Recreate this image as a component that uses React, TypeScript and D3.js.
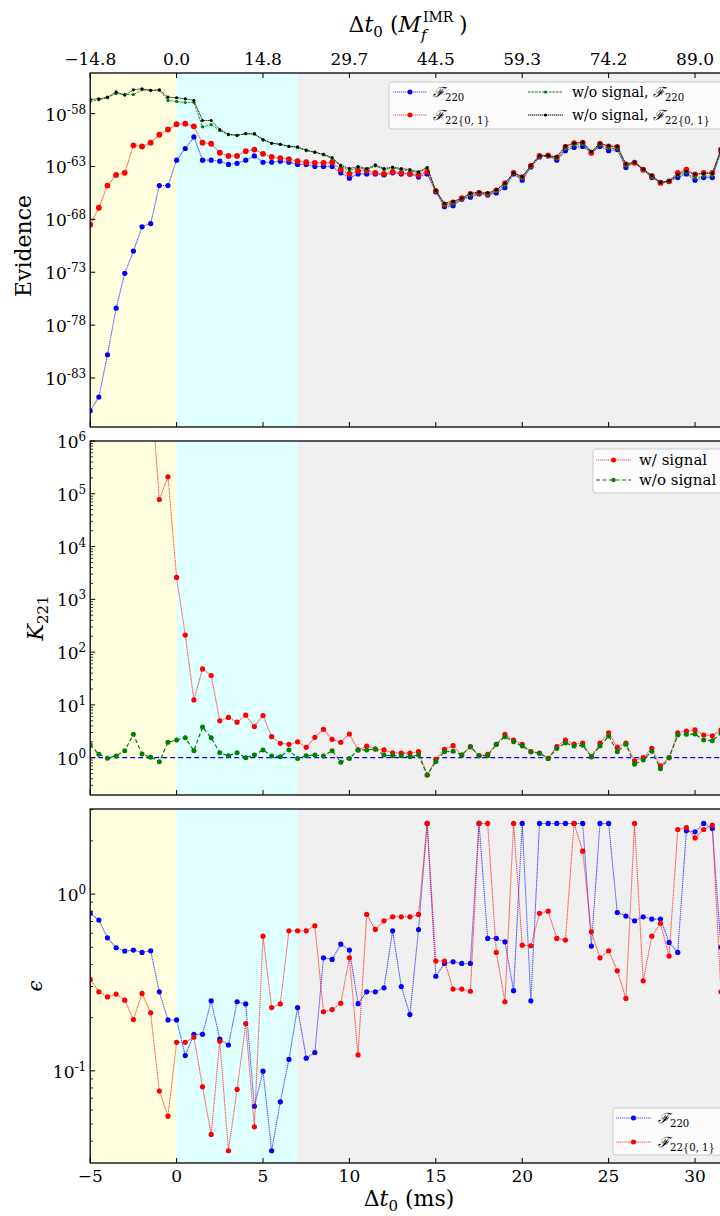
import React from 'react';
import * as d3 from 'd3';

// time offsets (ms)
const T = [
  -5, -4.5, -4, -3.5, -3, -2.5, -2, -1.5, -1, -0.5,
  0, 0.5, 1, 1.5, 2, 2.5, 3, 3.5, 4, 4.5,
  5, 5.5, 6, 6.5, 7, 7.5, 8, 8.5, 9, 9.5,
  10, 10.5, 11, 11.5, 12, 12.5, 13, 13.5, 14, 14.5,
  15, 15.5, 16, 16.5, 17, 17.5, 18, 18.5, 19, 19.5,
  20, 20.5, 21, 21.5, 22, 22.5, 23, 23.5, 24, 24.5,
  25, 25.5, 26, 26.5, 27, 27.5, 28, 28.5, 29, 29.5,
  30, 30.5, 31, 31.5,
];

// log10(evidence)
const logEvF220 = [
  -86.1, -84.8, -80.8, -76.4, -73.1, -71.0, -68.7, -68.4, -64.8, -64.8,
  -62.4, -61.3, -60.2, -62.4, -62.4, -62.5, -62.8, -62.7, -62.4, -62.0,
  -62.6, -62.6, -62.5, -62.6, -62.8, -62.8, -63.0, -63.0, -63.0, -63.6,
  -64.1, -63.7, -63.7, -63.7, -63.8, -63.6, -63.7, -63.7, -64.0, -63.7,
  -65.4, -66.8, -66.7, -66.1, -65.9, -65.6, -65.7, -65.5, -65.0, -63.7,
  -64.3, -63.05, -62.1, -62.0, -62.4, -61.5, -61.2, -61.1, -61.7, -61.1,
  -61.5, -61.4, -63.1, -62.6, -63.3, -64.05, -64.5, -64.4, -64.05, -63.7,
  -64.3, -64.05, -64.05, -61.6,
];
const logEvF2201 = [
  -68.5, -66.9, -64.8, -63.8, -63.6, -61.0, -61.1, -60.75, -60.0, -59.5,
  -59.0, -58.95, -59.2, -60.75, -60.85, -61.7, -62.0, -62.0, -61.55, -61.4,
  -61.8, -62.1, -62.2, -62.3, -62.5, -62.6, -62.65, -62.65, -62.6, -63.3,
  -63.7, -63.4, -63.4, -63.6, -63.7, -63.5, -63.6, -63.7, -63.8, -63.5,
  -65.3, -66.6, -66.4, -66.0, -65.6, -65.5, -65.6, -65.25, -64.6, -63.6,
  -64.0, -62.95, -62.0, -61.95, -62.15, -61.15, -60.8, -60.75, -61.7, -60.85,
  -61.1, -61.15, -62.8, -62.65, -63.3, -63.9, -64.55, -64.4, -63.6, -63.3,
  -63.75, -63.6, -63.6, -61.4,
];
const logEvNoSigF220 = [
  -56.85, -56.7, -56.5, -56.1, -56.2, -56.2, -55.75, -55.8, -55.8, -56.75,
  -56.85, -56.95, -56.95, -59.25, -59.05, -59.6, -60.0, -60.05, -59.9, -59.95,
  -60.5, -60.8, -60.9, -61.1, -61.2, -61.5, -61.65, -61.9, -62.25, -63.0,
  -63.4, -63.1, -63.3, -62.95, -63.3, -63.15, -63.3, -63.4, -63.6, -63.1,
  -65.35, -66.65, -66.55, -66.05, -65.75, -65.5, -65.65, -65.35, -64.8, -63.65,
  -64.15, -63.0, -62.05, -62.0, -62.3, -61.35, -61.0, -60.9, -61.65, -60.95,
  -61.3, -61.3, -62.95, -62.6, -63.3, -64.0, -64.5, -64.4, -63.9, -63.6,
  -64.1, -63.9, -63.9, -61.5,
];
const logEvNoSigF2201 = [
  -56.65, -56.6, -56.45, -55.95, -56.25, -55.75, -55.65, -55.8, -55.75, -56.45,
  -56.5, -56.6, -56.75, -58.65, -58.65, -59.5, -59.95, -60.05, -59.9, -59.9,
  -60.45, -60.8, -60.9, -61.1, -61.15, -61.45, -61.65, -61.85, -62.15, -62.9,
  -63.2, -63.0, -63.2, -62.85, -63.2, -63.05, -63.2, -63.3, -63.5, -63.1,
  -65.25, -66.45, -66.3, -66.0, -65.55, -65.4, -65.5, -65.2, -64.55, -63.6,
  -63.95, -62.9, -61.95, -61.95, -62.1, -61.05, -60.8, -60.7, -61.6, -60.8,
  -61.05, -61.1, -62.75, -62.6, -63.25, -63.85, -64.5, -64.35, -63.75, -63.45,
  -63.75, -63.65, -63.65, -61.4,
];

// Bayes factor K221
const kWithSignal = [
  1e17, 8e17, 1e16, 4e12, 3e9, 1e10, 4e7, 1.3e7, 7.8e4, 2.1e5,
  2.6e3, 210, 12.4, 48, 36, 5.0, 5.8, 4.7, 6.4, 3.9,
  6.3, 2.5, 1.87, 1.79, 2.0, 1.57, 2.43, 3.45, 2.23, 1.96,
  2.81, 1.4, 1.66, 1.46, 1.4, 1.24, 1.22, 1.22, 1.3, 0.47,
  0.93, 1.44, 1.69, 1.12, 1.62, 1.09, 1.16, 1.79, 2.77, 2.16,
  1.79, 1.3, 1.22, 0.97, 1.62, 2.16, 1.8, 1.88, 1.04, 1.88,
  2.97, 1.57, 1.88, 0.87, 1.0, 1.5, 0.7, 1.0, 2.97, 3.2,
  3.35, 2.69, 2.6, 3.35,
];
const kWithoutSignal = [
  1.74, 1.16, 0.98, 1.08, 1.36, 2.77, 1.17, 1.02, 0.84, 1.96,
  2.16, 2.39, 1.36, 3.8, 2.39, 1.24, 1.09, 1.24, 1.0, 1.12,
  1.4, 1.08, 1.04, 1.4, 0.97, 1.09, 1.12, 1.08, 1.36, 0.82,
  0.97, 1.4, 1.4, 1.46, 1.12, 1.09, 1.09, 1.04, 1.12, 0.47,
  0.84, 1.3, 1.33, 1.12, 1.62, 1.09, 1.09, 1.79, 2.5, 2.0,
  1.66, 1.3, 1.22, 0.97, 1.5, 1.9, 1.66, 1.72, 1.04, 1.66,
  2.57, 1.3, 1.8, 0.75, 0.9, 1.33, 0.62, 1.0, 2.69, 2.77,
  2.8, 2.16, 2.1, 2.9,
];

// epsilon
const epsF220 = [
  0.778, 0.713, 0.566, 0.497, 0.476, 0.482, 0.468, 0.478, 0.28, 0.194,
  0.194, 0.122, 0.161, 0.161, 0.249, 0.151, 0.14, 0.246, 0.239, 0.063,
  0.0995, 0.0353, 0.0668, 0.116, 0.228, 0.118, 0.127, 0.436, 0.427, 0.521,
  0.482, 0.24, 0.28, 0.28, 0.295, 0.62, 0.3, 0.208, 0.63, 2.51,
  0.343, 0.405, 0.414, 0.405, 0.405, 2.51, 0.561, 0.561, 0.537, 0.284,
  2.51, 0.249, 2.51, 2.51, 2.51, 2.51, 2.51, 2.51, 0.508, 2.51,
  2.51, 0.787, 0.751, 0.706, 0.744, 0.722, 0.722, 0.533, 0.468, 2.28,
  2.25, 2.51, 2.35, 0.5,
];
const epsF2201 = [
  0.329, 0.28, 0.262, 0.272, 0.251, 0.195, 0.274, 0.213, 0.0768, 0.0554,
  0.145, 0.145, 0.155, 0.0812, 0.0437, 0.147, 0.0353, 0.0785, 0.185, 0.0482,
  0.578, 0.228, 0.239, 0.62, 0.62, 0.62, 0.662, 0.216, 0.222, 0.241,
  0.436, 0.123, 0.767, 0.631, 0.706, 0.744, 0.744, 0.744, 0.767, 2.51,
  0.418, 0.418, 0.29, 0.29, 0.282, 2.51, 2.51, 0.468, 0.246, 2.51,
  0.514, 0.51, 0.778, 0.8, 0.561, 0.549, 2.51, 1.75, 0.612, 0.436,
  0.478, 0.368, 0.257, 2.51, 0.323, 0.578, 0.683, 0.446, 2.32, 2.38,
  2.08, 2.32, 2.46, 0.28,
];

const bottomTicks = [-5, 0, 5, 10, 15, 20, 25, 30];
const bottomTickLabels = ['−5', '0', '5', '10', '15', '20', '25', '30'];
const topTickLabels = ['−14.8', '0.0', '14.8', '29.7', '44.5', '59.3', '74.2', '89.0'];
const evTickExps = [-58, -63, -68, -73, -78, -83];
const kTickExps = [0, 1, 2, 3, 4, 5, 6];
const epsTickExps = [-1, 0];
const regions = [
  { from: -5, to: 0, color: '#ffffe0' },
  { from: 0, to: 7, color: '#e0ffff' },
  { from: 7, to: 32, color: '#f0f0f0' },
];

const FONT = "'DejaVu Serif', serif";
const LEFT = 90.2;
const RIGHT = 729.6;
const x = d3.scaleLinear().domain([-5, 32]).range([LEFT, RIGHT]);

const P1 = { top: 73, bottom: 427 };
const P2 = { top: 441, bottom: 795 };
const P3 = { top: 809, bottom: 1163 };

const yEv = d3.scaleLog().domain([Math.pow(10, -87.63), Math.pow(10, -54.16)]).range([P1.bottom, P1.top]);
const yK = d3.scaleLog().domain([Math.pow(10, -0.707), 1e6]).range([P2.bottom, P2.top]);
const yEps = d3.scaleLog().domain([0.0301, 3.03]).range([P3.bottom, P3.top]);

type Scale = (v: number) => number;

function Series({ vals, y, color, dash, width = 1, opacity = 1, r, clip }: {
  vals: number[]; y: Scale; color: string; dash?: string; width?: number; opacity?: number; r: number; clip: string;
}) {
  const line = d3.line<number>().x((_, i) => x(T[i])).y((v) => y(v));
  return (
    <g clipPath={`url(#${clip})`}>
      <path d={line(vals) || ''} fill="none" stroke={color} strokeWidth={width} strokeDasharray={dash} strokeOpacity={opacity} />
      {vals.map((v, i) => (
        <circle key={i} cx={x(T[i])} cy={y(v)} r={r} fill={color} />
      ))}
    </g>
  );
}

function PanelBg({ p, id }: { p: { top: number; bottom: number }; id: string }) {
  return (
    <g>
      <defs>
        <clipPath id={id}>
          <rect x={LEFT} y={p.top} width={RIGHT - LEFT} height={p.bottom - p.top} />
        </clipPath>
      </defs>
      {regions.map((r, i) => (
        <rect key={i} x={x(r.from)} y={p.top} width={x(r.to) - x(r.from)} height={p.bottom - p.top} fill={r.color} />
      ))}
    </g>
  );
}

function Frame({ p, topTicks }: { p: { top: number; bottom: number }; topTicks?: boolean }) {
  return (
    <g>
      <rect x={LEFT} y={p.top} width={RIGHT - LEFT} height={p.bottom - p.top} fill="none" stroke="#000" strokeWidth={1.3} />
      {bottomTicks.map((t) => (
        <line key={'b' + t} x1={x(t)} x2={x(t)} y1={p.bottom} y2={p.bottom - 5} stroke="#000" strokeWidth={1} />
      ))}
      {topTicks && bottomTicks.map((t) => (
        <line key={'t' + t} x1={x(t)} x2={x(t)} y1={p.top} y2={p.top + 5} stroke="#000" strokeWidth={1} />
      ))}
    </g>
  );
}

function YLogTicks({ y, exps, minor, p }: { y: Scale; exps: number[]; minor: boolean; p: { top: number; bottom: number } }) {
  const minors: number[] = [];
  if (minor) {
    for (let e = -3; e <= 7; e++) {
      for (let m = 2; m <= 9; m++) {
        const v = m * Math.pow(10, e);
        const py = y(v);
        if (py > p.top + 0.5 && py < p.bottom - 0.5) minors.push(v);
      }
    }
  }
  return (
    <g fontFamily={FONT}>
      {exps.map((e) => {
        const py = y(Math.pow(10, e));
        return (
          <g key={e}>
            <line x1={LEFT} x2={LEFT + 5} y1={py} y2={py} stroke="#000" strokeWidth={1} />
            <text x={LEFT - 4} y={py + 7} textAnchor="end" fontSize={17}>
              10<tspan dy={-7} fontSize={12}>{e < 0 ? '-' + Math.abs(e) : String(e)}</tspan>
            </text>
          </g>
        );
      })}
      {minors.map((v, i) => (
        <line key={'m' + i} x1={LEFT} x2={LEFT + 2.8} y1={y(v)} y2={y(v)} stroke="#000" strokeWidth={0.8} />
      ))}
    </g>
  );
}

function FSym({ sub, fs }: { sub: string; fs: number }) {
  return (
    <>
      <tspan fontStyle="italic">ℱ</tspan>
      <tspan dy={fs * 0.3} fontSize={fs * 0.72}>{sub}</tspan>
    </>
  );
}

function Handle({ x1, x2, y, color, dash, r, opacity = 1 }: { x1: number; x2: number; y: number; color: string; dash?: string; r: number; opacity?: number }) {
  return (
    <g>
      <line x1={x1} x2={x2} y1={y} y2={y} stroke={color} strokeWidth={1} strokeDasharray={dash} strokeOpacity={opacity} />
      <circle cx={(x1 + x2) / 2} cy={y} r={r} fill={color} />
    </g>
  );
}

export default function App() {
  const ev = (a: number[]) => a.map((v) => Math.pow(10, v));
  const dotted = '1.4,0.6';
  return (
    <svg width={720} height={1216} style={{ position: 'absolute', left: 0, top: 0, background: '#fff' }} fontFamily={FONT}>
      <rect x={0} y={0} width={720} height={1216} fill="#fff" />

      {/* Panel 1: Evidence */}
      <PanelBg p={P1} id="c1" />
      <Series vals={ev(logEvF220)} y={yEv} color="#0000ff" dash={dotted} width={1.1} opacity={0.65} r={2.6} clip="c1" />
      <Series vals={ev(logEvF2201)} y={yEv} color="#ff0000" dash={dotted} width={1.1} opacity={0.65} r={2.9} clip="c1" />
      <Series vals={ev(logEvNoSigF220)} y={yEv} color="#008000" dash="2.5,1" width={1} opacity={0.85} r={1.6} clip="c1" />
      <Series vals={ev(logEvNoSigF2201)} y={yEv} color="#000000" dash={dotted} width={1} opacity={0.85} r={1.6} clip="c1" />
      <Frame p={P1} topTicks />
      <YLogTicks y={yEv} exps={evTickExps} minor={false} p={P1} />
      {bottomTicks.map((t, i) => (
        <text key={t} x={x(t)} y={65} textAnchor="middle" fontSize={17}>{topTickLabels[i]}</text>
      ))}
      <text x={421} y={32} textAnchor="end" fontSize={22}>
        Δ<tspan fontStyle="italic">t</tspan><tspan dy={5} fontSize={15}>0</tspan><tspan dy={-5}> (</tspan><tspan fontStyle="italic">M</tspan>
      </text>
      <text x={423} y={22} fontSize={14}>IMR</text>
      <text x={421} y={40} fontSize={15} fontStyle="italic">f</text>
      <text x={459} y={32} fontSize={22}>)</text>
      <text transform="translate(31,246) rotate(-90)" textAnchor="middle" fontSize={22}>Evidence</text>

      {/* legend 1 */}
      <rect x={389} y={82} width={360} height={47} rx={3} fill="#ffffff" fillOpacity={0.8} stroke="#cccccc" strokeWidth={1} />
      <Handle x1={393} x2={427} y={92} color="#0000ff" dash={dotted} r={2.5} opacity={0.65} />
      <Handle x1={393} x2={427} y={115} color="#ff0000" dash={dotted} r={2.5} opacity={0.65} />
      <Handle x1={528} x2={563} y={92} color="#008000" dash="2.5,1" r={1.6} />
      <Handle x1={528} x2={563} y={115} color="#000000" dash={dotted} r={1.6} />
      <g fontSize={14}>
        <text x={433} y={97}><FSym sub="220" fs={14} /></text>
        <text x={433} y={120}><FSym sub="22{0, 1}" fs={14} /></text>
        <text x={572} y={97}>w/o signal, <FSym sub="220" fs={14} /></text>
        <text x={572} y={120}>w/o signal, <FSym sub="22{0, 1}" fs={14} /></text>
      </g>

      {/* Panel 2: K221 */}
      <PanelBg p={P2} id="c2" />
      <g clipPath="url(#c2)">
        <line x1={LEFT} x2={RIGHT} y1={yK(1)} y2={yK(1)} stroke="#0000ff" strokeWidth={1.2} strokeDasharray="5,3" />
      </g>
      <Series vals={kWithSignal} y={yK} color="#ff0000" dash={dotted} width={1.1} opacity={0.65} r={2.6} clip="c2" />
      <Series vals={kWithoutSignal} y={yK} color="#008000" dash="4,2.5" width={1.2} r={2.5} clip="c2" />
      <Frame p={P2} />
      <YLogTicks y={yK} exps={kTickExps} minor={true} p={P2} />
      <text transform="translate(43,618) rotate(-90)" textAnchor="middle" fontSize={22}>
        <tspan fontStyle="italic">K</tspan><tspan dy={5} fontSize={15}>221</tspan>
      </text>
      {/* legend 2 */}
      <rect x={593} y={449} width={160} height={44} rx={3} fill="#ffffff" fillOpacity={0.8} stroke="#cccccc" strokeWidth={1} />
      <Handle x1={596} x2={631} y={460} color="#ff0000" dash={dotted} r={2.5} opacity={0.65} />
      <Handle x1={596} x2={631} y={480} color="#008000" dash="4,2.5" r={2.2} />
      <g fontSize={15}>
        <text x={639} y={465}>w/ signal</text>
        <text x={639} y={485}>w/o signal</text>
      </g>

      {/* Panel 3: epsilon */}
      <PanelBg p={P3} id="c3" />
      <Series vals={epsF220} y={yEps} color="#0000ff" dash={dotted} width={1.1} opacity={0.65} r={2.6} clip="c3" />
      <Series vals={epsF2201} y={yEps} color="#ff0000" dash={dotted} width={1.1} opacity={0.65} r={2.6} clip="c3" />
      <Frame p={P3} />
      <YLogTicks y={yEps} exps={epsTickExps} minor={true} p={P3} />
      <text transform="translate(42,986) rotate(-90)" textAnchor="middle" fontSize={20} fontStyle="italic">ϵ</text>
      {bottomTicks.map((t, i) => (
        <text key={t} x={x(t)} y={1182} textAnchor="middle" fontSize={17}>{bottomTickLabels[i]}</text>
      ))}
      <text x={409} y={1206} textAnchor="middle" fontSize={22}>
        Δ<tspan fontStyle="italic">t</tspan><tspan dy={5} fontSize={15}>0</tspan><tspan dy={-5}> (ms)</tspan>
      </text>
      {/* legend 3 */}
      <rect x={613} y={1108} width={160} height={47} rx={3} fill="#ffffff" fillOpacity={0.8} stroke="#cccccc" strokeWidth={1} />
      <Handle x1={616} x2={651} y={1118} color="#0000ff" dash={dotted} r={2.5} opacity={0.65} />
      <Handle x1={616} x2={651} y={1142} color="#ff0000" dash={dotted} r={2.5} opacity={0.65} />
      <g fontSize={14}>
        <text x={658} y={1123}><FSym sub="220" fs={14} /></text>
        <text x={658} y={1147}><FSym sub="22{0, 1}" fs={14} /></text>
      </g>
    </svg>
  );
}
